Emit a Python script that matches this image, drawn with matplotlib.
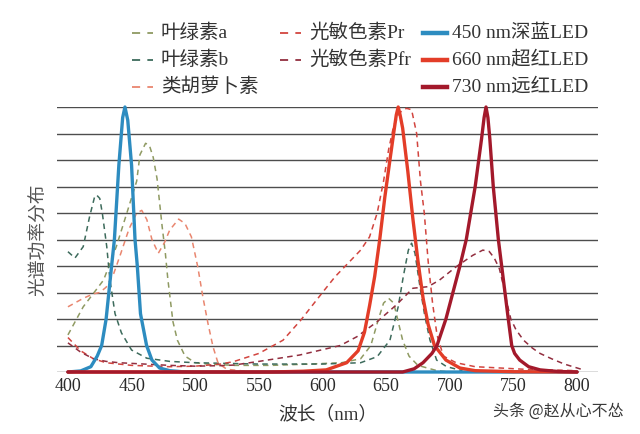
"""Spectral power of plant pigments vs. LED emission (recreated chart)."""

import matplotlib

matplotlib.use("Agg")
import matplotlib.pyplot as plt  # noqa: E402
from matplotlib.lines import Line2D  # noqa: E402

plt.rcParams["font.family"] = ["Liberation Serif", "Noto Sans CJK SC", "DejaVu Sans"]

# --- data (wavelength nm, relative value) ---
chl_a_nm = [400, 412, 428, 438, 447, 454, 456.6, 461, 464, 467, 470, 472, 474,
            476.5, 478.5, 480.5, 482.5, 486, 492, 500, 510, 530, 560, 590, 615,
            630, 638, 644, 648, 652, 656, 659, 663, 668, 675, 690, 700]
chl_a_val = [0.14, 0.246, 0.347, 0.473, 0.611, 0.72, 0.82, 0.863, 0.855, 0.81,
             0.73, 0.64, 0.55, 0.45, 0.35, 0.27, 0.19, 0.12, 0.06, 0.035, 0.03,
             0.025, 0.025, 0.03, 0.035, 0.05, 0.1, 0.2, 0.26, 0.278, 0.26, 0.2,
             0.12, 0.06, 0.025, 0.005, 0.0]

chl_b_nm = [400, 405.5, 412, 417, 421, 422.5, 425, 427, 430.5, 433, 437, 442, 450,
            462, 480, 500, 550, 600, 630, 643, 653, 659.5, 663.5, 667.5, 670,
            672.7, 676.6, 680.5, 684.5, 689.7, 697.6, 710]
chl_b_val = [0.454, 0.43, 0.473, 0.586, 0.662, 0.668, 0.655, 0.6, 0.473, 0.347,
             0.22, 0.148, 0.083, 0.052, 0.04, 0.035, 0.03, 0.03, 0.035, 0.058,
             0.12, 0.246, 0.36, 0.46, 0.486, 0.448, 0.322, 0.209, 0.12, 0.045,
             0.02, 0.005]

carot_nm = [400, 412, 420, 425, 430, 436, 441, 448, 454, 458, 462, 466, 471, 476,
            480, 487, 492, 497, 502, 506, 510, 514, 518, 525, 540]
carot_val = [0.246, 0.278, 0.295, 0.3, 0.32, 0.372, 0.44, 0.54, 0.6, 0.61, 0.575,
             0.5, 0.448, 0.49, 0.536, 0.577, 0.56, 0.51, 0.397, 0.284, 0.184,
             0.095, 0.033, 0.01, 0.003]

pr_nm = [400, 410, 420, 430, 450, 480, 500, 520, 530, 550, 569, 583, 600, 610, 620,
         630, 637, 643, 648, 652, 656, 661, 666, 670, 674, 677, 680, 683, 686.5,
         690, 695, 705, 720, 760, 800]
pr_val = [0.13, 0.08, 0.05, 0.035, 0.025, 0.02, 0.022, 0.03, 0.039, 0.07, 0.12,
          0.196, 0.3, 0.36, 0.41, 0.46, 0.51, 0.6, 0.72, 0.84, 0.93, 0.98, 0.995,
          0.99, 0.9, 0.72, 0.6, 0.42, 0.26, 0.14, 0.06, 0.035, 0.02, 0.01, 0.005]

pfr_nm = [400, 410, 420, 430, 440, 460, 480, 500, 520, 530, 550, 582, 614, 627, 643,
          658, 671, 683, 692, 705, 718, 726, 731, 735, 739, 742, 745, 748, 752,
          758, 765, 771, 780, 790, 805]
pfr_val = [0.11, 0.075, 0.05, 0.04, 0.035, 0.03, 0.025, 0.022, 0.024, 0.026, 0.04,
           0.064, 0.1, 0.133, 0.19, 0.253, 0.316, 0.322, 0.347, 0.397, 0.44, 0.46,
           0.455, 0.43, 0.39, 0.33, 0.26, 0.2, 0.16, 0.12, 0.09, 0.07, 0.05, 0.03,
           0.008]

led450_nm = [400, 410, 418, 423, 426.5, 430, 434.3, 436.5, 440, 443, 444.8, 447,
             450, 452.7, 454.5, 457, 461.8, 466, 472, 480, 490, 500, 800]
led450_val = [0, 0.004, 0.02, 0.06, 0.1, 0.2, 0.4, 0.5, 0.78, 0.96, 1.0, 0.95,
              0.78, 0.5, 0.4, 0.22, 0.1, 0.045, 0.015, 0.005, 0.001, 0, 0]

led660_nm = [400, 560, 585, 603, 619, 628, 633, 637, 641, 645, 649, 653, 656.5,
             658, 659.5, 661, 663, 667, 671, 675, 679, 683, 688, 697, 708, 720,
             750, 800]
led660_val = [0, 0, 0.003, 0.008, 0.035, 0.08, 0.15, 0.25, 0.36, 0.5, 0.66, 0.8,
              0.92, 0.97, 1.0, 0.97, 0.92, 0.76, 0.58, 0.42, 0.28, 0.18, 0.1,
              0.045, 0.015, 0.005, 0.001, 0]

led730_nm = [400, 663, 672, 679, 686, 690, 697, 702.5, 708, 713, 720, 725, 727,
             728.5, 730, 731.5, 734.2, 738.2, 740.8, 743.4, 746, 748.7, 751, 755,
             762, 771, 785, 800]
led730_val = [0, 0, 0.012, 0.035, 0.07, 0.1, 0.2, 0.3, 0.4, 0.5, 0.7, 0.88, 0.96,
              1.0, 0.96, 0.88, 0.7, 0.5, 0.4, 0.3, 0.2, 0.1, 0.07, 0.045, 0.02,
              0.008, 0.002, 0]

x_ticks = [400, 450, 500, 550, 600, 650, 700, 750, 800]

# legend layout: (label, colour, dashed?) per column
legend_cols = [
    [("叶绿素a", "#8f9a62", True), ("叶绿素b", "#3d6b5c", True),
     ("类胡萝卜素", "#e9866f", True)],
    [("光敏色素Pr", "#d2453f", True), ("光敏色素Pfr", "#922e3f", True)],
    [("450 nm深蓝LED", "#2d8cc0", False), ("660 nm超红LED", "#e33d28", False),
     ("730 nm远红LED", "#a3192b", False)],
]

W, H = 640, 434
fig = plt.figure(figsize=(W / 100, H / 100), dpi=100)
ax = fig.add_axes([57 / W, 1 - 372 / H, 541 / W, 265 / H])

dash = (0, (3.6, 2.8))
pigments = [
    (chl_a_nm, chl_a_val, "#8f9a62"),
    (chl_b_nm, chl_b_val, "#3d6b5c"),
    (carot_nm, carot_val, "#e9866f"),
    (pr_nm, pr_val, "#d2453f"),
    (pfr_nm, pfr_val, "#922e3f"),
]
for nm, val, col in pigments:
    ax.plot(nm, val, color=col, lw=1.1, linestyle=dash, clip_on=False, zorder=3)

leds = [
    (led450_nm, led450_val, "#2d8cc0"),
    (led660_nm, led660_val, "#e33d28"),
    (led730_nm, led730_val, "#a3192b"),
]
for nm, val, col in leds:
    ax.plot(nm, val, color=col, lw=2.4, solid_capstyle="round",
            solid_joinstyle="round", clip_on=False, zorder=4)

ax.set_xlim(391.4, 816.5)
ax.set_ylim(0, 1.0)
ax.set_yticks([i / 10 for i in range(11)])
ax.set_yticklabels([])
ax.set_xticks(x_ticks)
ax.tick_params(axis="both", length=0)
ax.tick_params(axis="x", labelsize=13, labelcolor="#2a2a2a", pad=4)
ax.grid(axis="y", color="#4d4d4d", lw=1.0, zorder=1)
for side in ax.spines.values():
    side.set_visible(False)

ax.set_xlabel("波长（nm）", fontsize=13.5, color="#333333", labelpad=8)
fig.text(40 / W, 1 - 240 / H, "光谱功率分布", rotation=90, fontsize=13.5,
         color="#555555", ha="center", va="center")

# manual legend in three columns
col_x = [132, 280, 423]
row_y = [33, 60, 87]
for cx, entries in zip(col_x, legend_cols):
    for ry, (label, col, dashed) in zip(row_y, entries):
        yy = 1 - ry / H
        if dashed:
            handle = Line2D([cx / W, (cx + 21) / W], [yy, yy], color=col, lw=1.3,
                            linestyle=(0, (4.5, 4.0)), transform=fig.transFigure)
        else:
            handle = Line2D([cx / W, (cx + 24) / W], [yy, yy], color=col, lw=3.2,
                            transform=fig.transFigure)
        fig.add_artist(handle)
        fig.text((cx + 29) / W, yy, label, fontsize=14, color="#333333",
                 ha="left", va="center")

fig.text(624 / W, 1 - 411 / H, "头条 @赵从心不怂", fontsize=11.5, color="#3a3a3a",
         ha="right", va="center", family=["Noto Sans CJK SC", "DejaVu Sans"])

fig.savefig("out.png", dpi=100)
